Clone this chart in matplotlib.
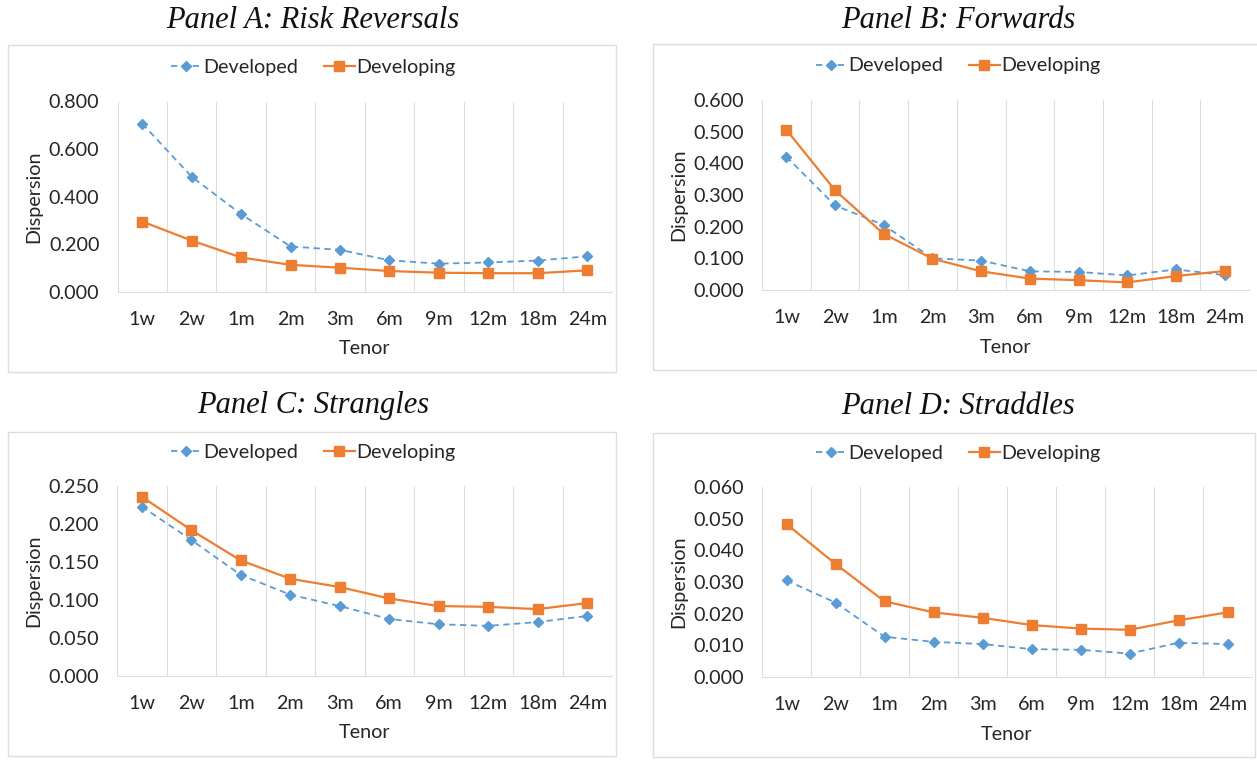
import matplotlib
matplotlib.use("Agg")
import matplotlib.pyplot as plt
from matplotlib.patches import Rectangle
from matplotlib.lines import Line2D
from matplotlib.ticker import FormatStrFormatter, MultipleLocator

tenors = ["1w", "2w", "1m", "2m", "3m", "6m", "9m", "12m", "18m", "24m"]

rr_developed = [0.707, 0.484, 0.327, 0.191, 0.177, 0.133, 0.119, 0.124, 0.132, 0.150]
rr_developing = [0.296, 0.216, 0.145, 0.114, 0.102, 0.088, 0.081, 0.079, 0.079, 0.091]

fwd_developed = [0.421, 0.267, 0.205, 0.100, 0.093, 0.059, 0.057, 0.046, 0.065, 0.047]
fwd_developing = [0.506, 0.315, 0.177, 0.099, 0.059, 0.036, 0.031, 0.024, 0.044, 0.060]

str_developed = [0.223, 0.179, 0.133, 0.107, 0.092, 0.075, 0.068, 0.066, 0.071, 0.079]
str_developing = [0.236, 0.192, 0.152, 0.128, 0.117, 0.102, 0.092, 0.091, 0.088, 0.096]

std_developed = [0.0305, 0.0235, 0.0127, 0.0111, 0.0104, 0.0088, 0.0086, 0.0074, 0.0108, 0.0104]
std_developing = [0.0483, 0.0357, 0.0239, 0.0204, 0.0187, 0.0164, 0.0153, 0.0149, 0.0179, 0.0204]

titles = ["Panel A: Risk Reversals", "Panel B: Forwards",
          "Panel C: Strangles", "Panel D: Straddles"]
y_max = [0.8, 0.6, 0.25, 0.06]
y_step = [0.2, 0.1, 0.05, 0.01]

W, H = 1257, 761
BLUE = "#5B9BD5"
ORANGE = "#ED7D31"
GRID = "#DDDDDD"
LABEL = "#262626"
BODY_FONT = ["Lato", "DejaVu Sans"]
TITLE_FONT = ["Liberation Serif", "DejaVu Serif"]
FS = 14.2

# pixel layout: (box l, t, r, b), (plot l, t, r, b), title y, legend y, centre x
layouts = [
    ((8, 45, 616, 372), (117.5, 101.5, 612, 292), 20, 67.5, 313),
    ((653, 44, 1265, 370), (762, 100, 1249, 290), 20, 66, 958),
    ((8, 432, 616, 756), (117, 486, 612, 676), 406, 452.5, 313),
    ((653, 433, 1255, 757), (762, 487, 1252, 677), 406, 453.5, 958),
]

fig = plt.figure(figsize=(W / 100, H / 100), dpi=100)
fig.patch.set_facecolor("white")


def fx(px):
    return px / W


def fy(py):
    return 1 - py / H


series = [(rr_developed, rr_developing), (fwd_developed, fwd_developing),
          (str_developed, str_developing), (std_developed, std_developing)]

for i, ((bl, bt, br, bb), (pl, pt, pr, pb), ty, ly, cx) in enumerate(layouts):
    fig.patches.append(Rectangle((fx(bl), fy(bb)), fx(br - bl), (bb - bt) / H,
                                 transform=fig.transFigure, fill=False,
                                 edgecolor=GRID, linewidth=1.0, zorder=0))
    fig.text(fx(cx), fy(ty), titles[i], ha="center", va="center",
             fontsize=22, style="italic", family=TITLE_FONT, color="#111111")

    ax = fig.add_axes([fx(pl), fy(pb), fx(pr - pl), (pb - pt) / H])
    x = list(range(len(tenors)))
    dev, devg = series[i]
    ax.plot(x, dev, color=BLUE, linestyle=(0, (3.5, 2.5)), linewidth=1.3,
            marker="D", markersize=5.5, markeredgecolor=BLUE, zorder=3)
    ax.plot(x, devg, color=ORANGE, linestyle="-", linewidth=1.6,
            marker="s", markersize=6.5, markeredgecolor=ORANGE, zorder=4)

    ax.set_xlim(-0.5, len(tenors) - 0.5)
    ax.set_ylim(0, y_max[i])
    ax.yaxis.set_major_locator(MultipleLocator(y_step[i]))
    ax.yaxis.set_major_formatter(FormatStrFormatter("%.3f"))
    ax.set_xticks(x)
    ax.set_xticklabels(tenors)
    for b in range(len(tenors) + 1):
        ax.axvline(b - 0.5, color=GRID, linewidth=0.8, zorder=1)
    for s in ["top", "right", "left"]:
        ax.spines[s].set_visible(False)
    ax.spines["bottom"].set_color(GRID)
    ax.spines["bottom"].set_linewidth(0.8)
    ax.tick_params(axis="both", length=0, labelsize=FS)
    ax.tick_params(axis="x", pad=14)
    ax.tick_params(axis="y", pad=13)
    for lab in ax.get_xticklabels() + ax.get_yticklabels():
        lab.set_family(BODY_FONT)
        lab.set_color(LABEL)

    fig.text(fx(bl + 26), fy((pt + pb) / 2), "Dispersion", rotation=90,
             ha="center", va="center", fontsize=FS, family=BODY_FONT,
             color=LABEL)
    fig.text(fx((pl + pr) / 2), fy(pb + 57), "Tenor", ha="center",
             va="center", fontsize=FS, family=BODY_FONT, color=LABEL)

    handles = [
        Line2D([], [], color=BLUE, linestyle=(0, (3.5, 2.5)), linewidth=1.3,
               marker="D", markersize=5.5),
        Line2D([], [], color=ORANGE, linestyle="-", linewidth=1.6,
               marker="s", markersize=6.5),
    ]
    fig.legend(handles, ["Developed", "Developing"], loc="center",
               bbox_to_anchor=(fx(cx), fy(ly)), ncol=2, frameon=False,
               prop={"family": BODY_FONT, "size": FS}, handlelength=1.6,
               handletextpad=0.05, columnspacing=1.3, labelcolor=LABEL)

fig.savefig("out.png", dpi=100, facecolor="white")
